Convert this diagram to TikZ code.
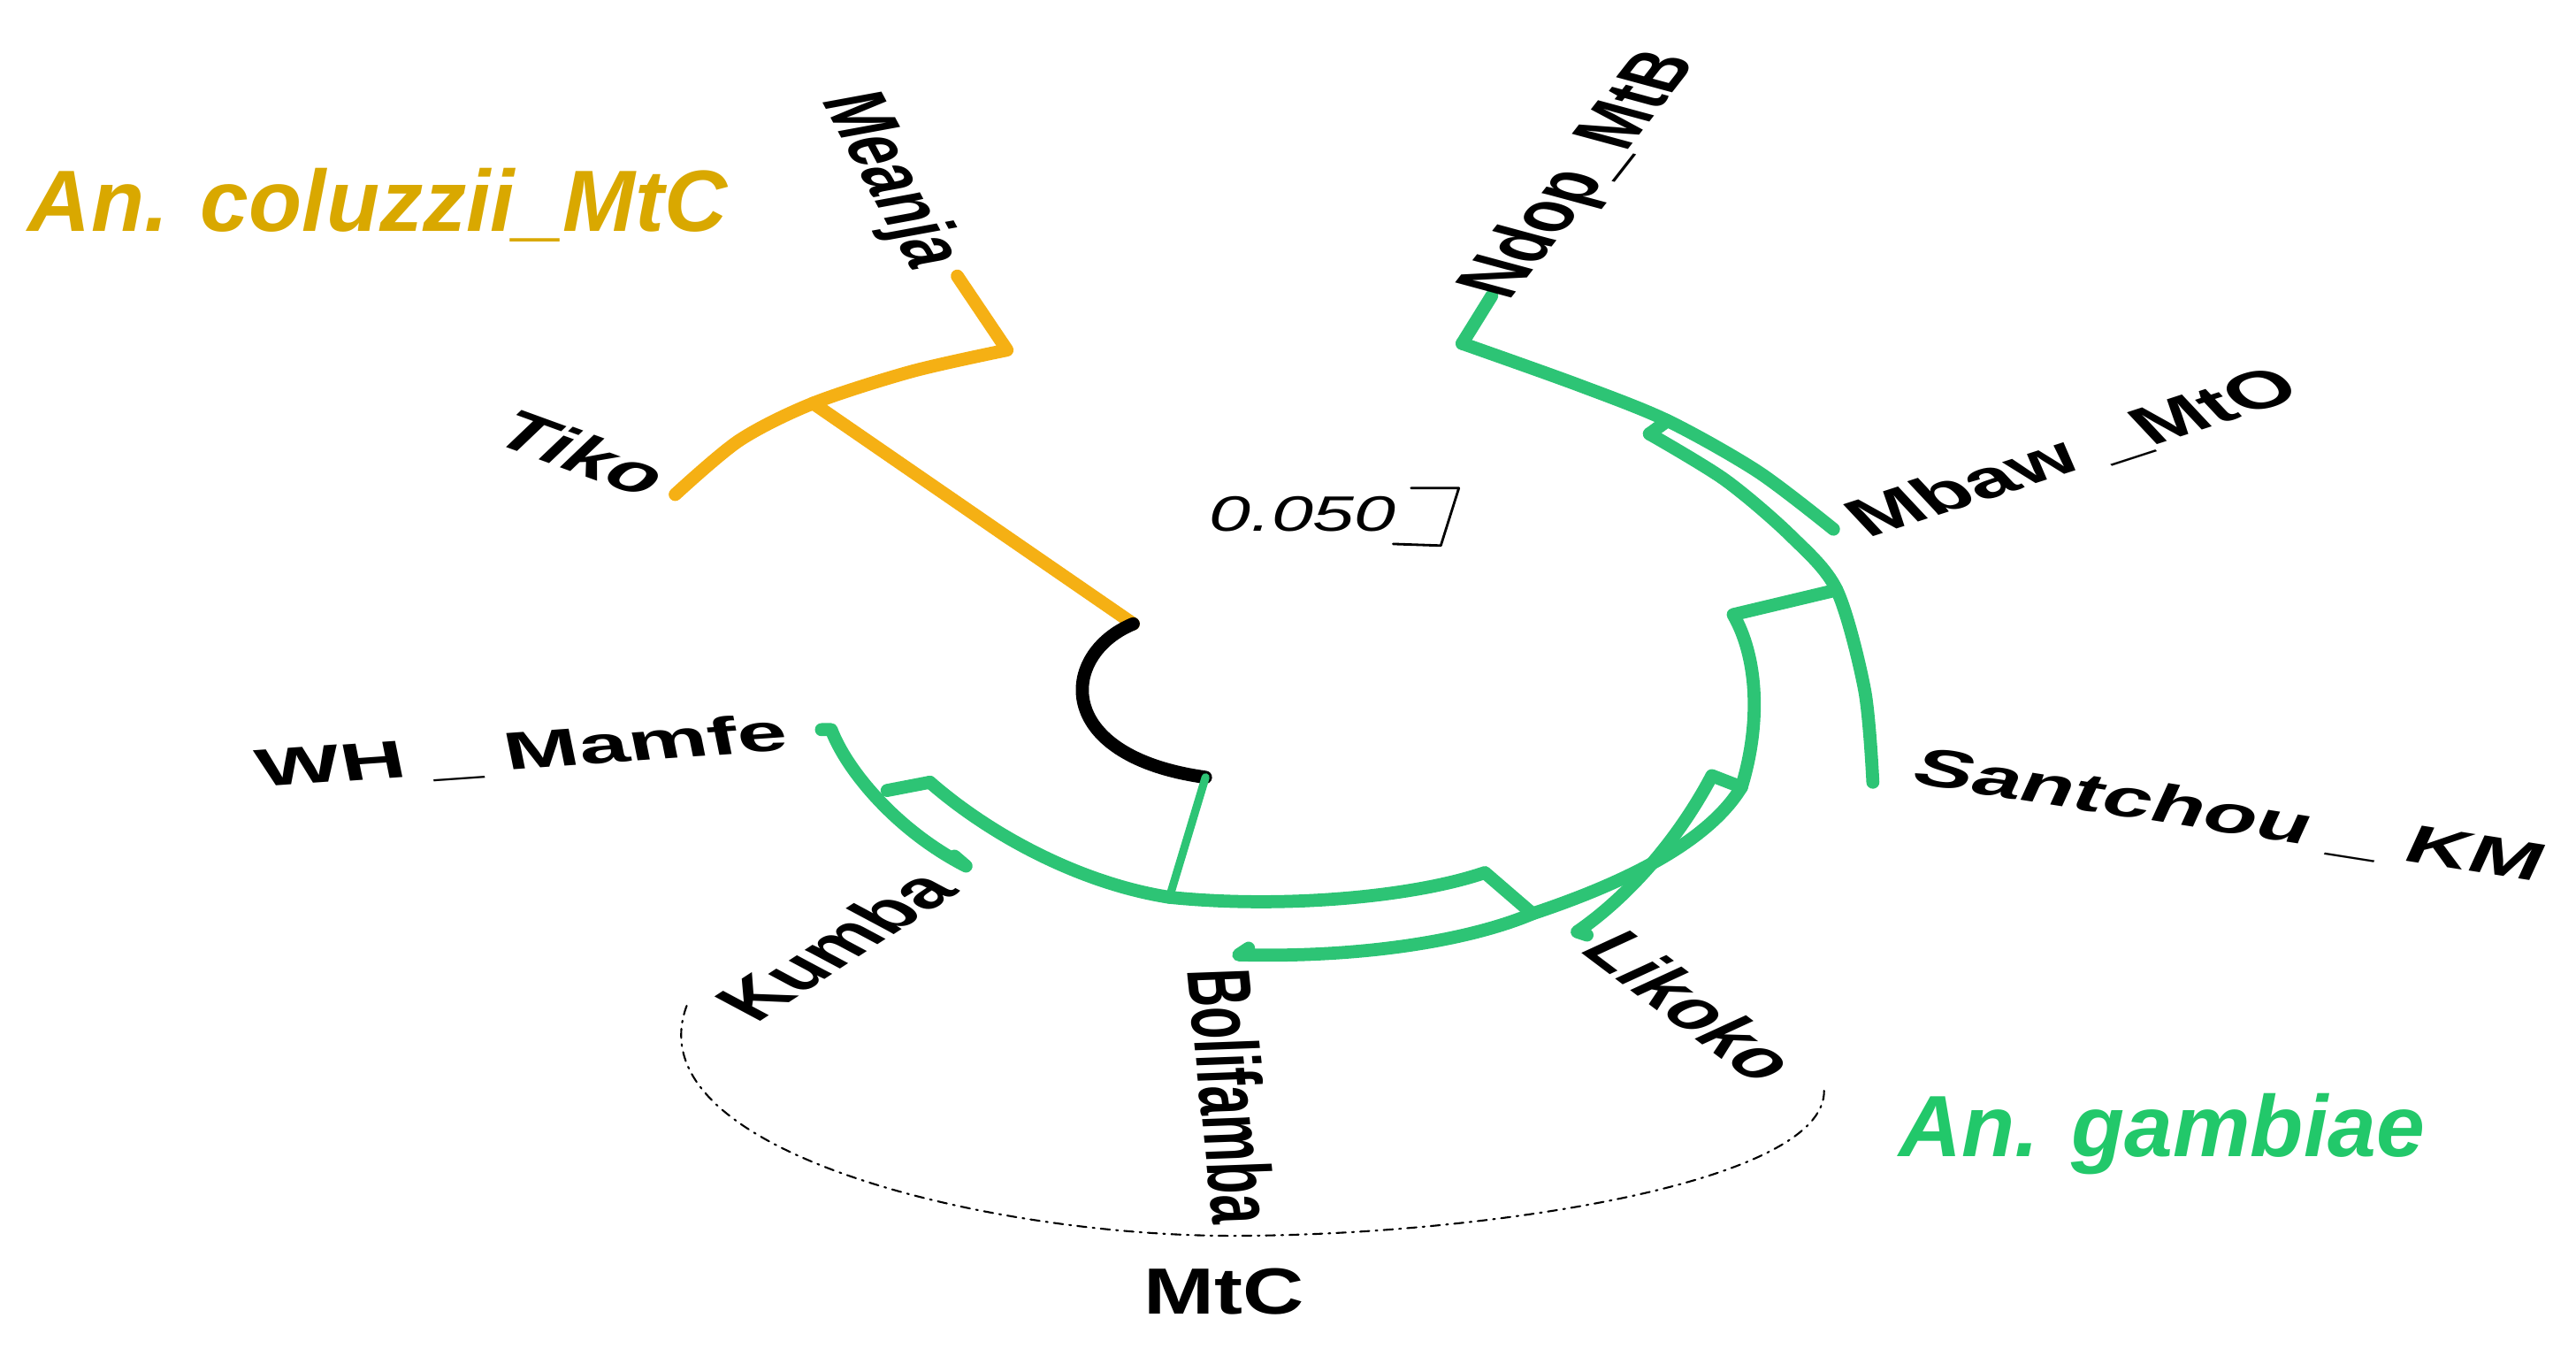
\documentclass[tikz,border=0pt]{standalone}
\usepackage{fontspec}
\setmainfont{Liberation Sans}
\definecolor{org}{HTML}{F5B014}
\definecolor{grn}{HTML}{2DC475}
\definecolor{orgt}{HTML}{D9A800}
\definecolor{grnt}{HTML}{22C86A}
\newcommand{\rlab}[2]{\scalebox{1.7}[1]{\rotatebox{#1}{#2}}}
\begin{document}
\begin{tikzpicture}[x=0.01858cm,y=-0.01858cm,line cap=round,line join=round,
 br/.style={line width=4.2pt},
 thin br/.style={line width=2.6pt},
 lab/.style={font=\fontsize{17}{20}\selectfont\bfseries,inner sep=0pt},
 ttl/.style={font=\fontsize{28}{32}\selectfont\bfseries\itshape,inner sep=0pt}]
\useasboundingbox (0,0) rectangle (1568,830);
% orange clade
\coordinate (root) at (689.8,379.6);
\coordinate (on) at (494.9,245.4);
\coordinate (tiko) at (411,300.9);
\coordinate (mc) at (613,213);
\coordinate (mea) at (582.7,168);
\draw[org,br] (root) -- (on);
\draw[org,br] plot[smooth] coordinates {(tiko) (450,268) (on) (555,226) (mc)} -- (mea);
% black root arc
\coordinate (gs) at (733.8,473);
\draw[black,br] (root) .. controls (645,398) and (640,460) .. (gs);
% green clade
\coordinate (A) at (711.8,546);
\draw[grn,thin br] (gs) -- (A);
\coordinate (L1) at (566,476);
\draw[grn,br] (A) .. controls (660,538) and (605,510) .. (L1);
\draw[grn,br] (L1) -- (540,481);
\coordinate (wh) at (500,444);
\coordinate (ku) at (588,527);
\draw[grn,br] (wh) -- (506,444) .. controls (515,468) and (545,505) .. (ku) -- (581,521);
\coordinate (B) at (903.8,531);
\coordinate (C) at (932.8,556);
\draw[grn,br] (A) .. controls (780,553) and (860,546) .. (B) -- (C);
\coordinate (bo) at (754,581);
\coordinate (D) at (1060,479);
\draw[grn,br] (760,577) -- (bo) .. controls (830,583) and (895,572) .. (C) .. controls (990,537) and (1040,512) .. (D);
\coordinate (E) at (1055,374);
\coordinate (F) at (1118,359);
\draw[grn,br] (D) .. controls (1072,440) and (1070,400) .. (E) -- (F);
\coordinate (lk) at (960,567);
\draw[grn,br] (D) -- (1042,472) .. controls (1022,510) and (992,545) .. (lk) -- (966,569);
\coordinate (nd) at (908,180);
\coordinate (ndc) at (890,209);
\coordinate (sa) at (1140,476);
\coordinate (mb) at (1116,322);
\draw[grn,br] (nd) -- (ndc);
\draw[grn,br] plot[smooth] coordinates {(ndc) (960,234) (1015,256) (1070,287) (mb)};
\draw[grn,br] (1015,256) -- (1004,264);
\draw[grn,br] plot[smooth] coordinates {(1004,264) (1050,292) (1090,326) (F) (1135,420) (sa)};
% scale bar
\node[font=\fontsize{16}{18}\selectfont\itshape,inner sep=0pt] (sc) at (793,313) {\scalebox{1.5}[1]{0.050}};
\coordinate (s1) at (859,297); \coordinate (s2) at (888,297);
\coordinate (s3) at (877,332); \coordinate (s4) at (848,331);
\draw[line width=0.8pt] (s1) -- (s2) -- (s3) -- (s4);
% labels
\node[lab] (lMea) at (541,110) {\rlab{-72.6}{Meanja}};
\node[lab] (lTik) at (355,276) {\rlab{-31.7}{Tiko}};
\node[lab] (lNd) at (963,107) {\rlab{65.3}{Ndop\_MtB}};
\node[lab] (lMb) at (1262,276) {\rlab{28.9}{Mbaw \_MtO}};
\node[lab] (lSa) at (1357,497) {\rlab{-15}{Santchou \_ KM}};
\node[lab] (lLi) at (1030,612) {\rlab{-52}{Likoko}};
\node[lab] (lBo) at (750,667) {\rlab{-86.5}{Bolifamba}};
\node[lab] (lKu) at (508,575) {\rlab{47.8}{Kumba}};
\node[lab] (lWH) at (318,458) {\rlab{6.8}{WH \_ Mamfe}};
\node[ttl,text=orgt] (tc) at (230,125) {An. coluzzii\_MtC};
\node[ttl,text=grnt] (tg) at (1316,690) {An. gambiae};
\node[font=\fontsize{21}{24}\selectfont\bfseries,inner sep=0pt] (mtc) at (745,786) {\scalebox{1.3}[1]{MtC}};
% dash-dot arc
\coordinate (d1) at (418,612); \coordinate (d2) at (750,752); \coordinate (d3) at (1110,660);
\draw[line width=0.6pt,dash dot] (d1) .. controls (385,700) and (600,752) .. (d2) .. controls (900,752) and (1120,720) .. (d3);
\end{tikzpicture}
\end{document}
